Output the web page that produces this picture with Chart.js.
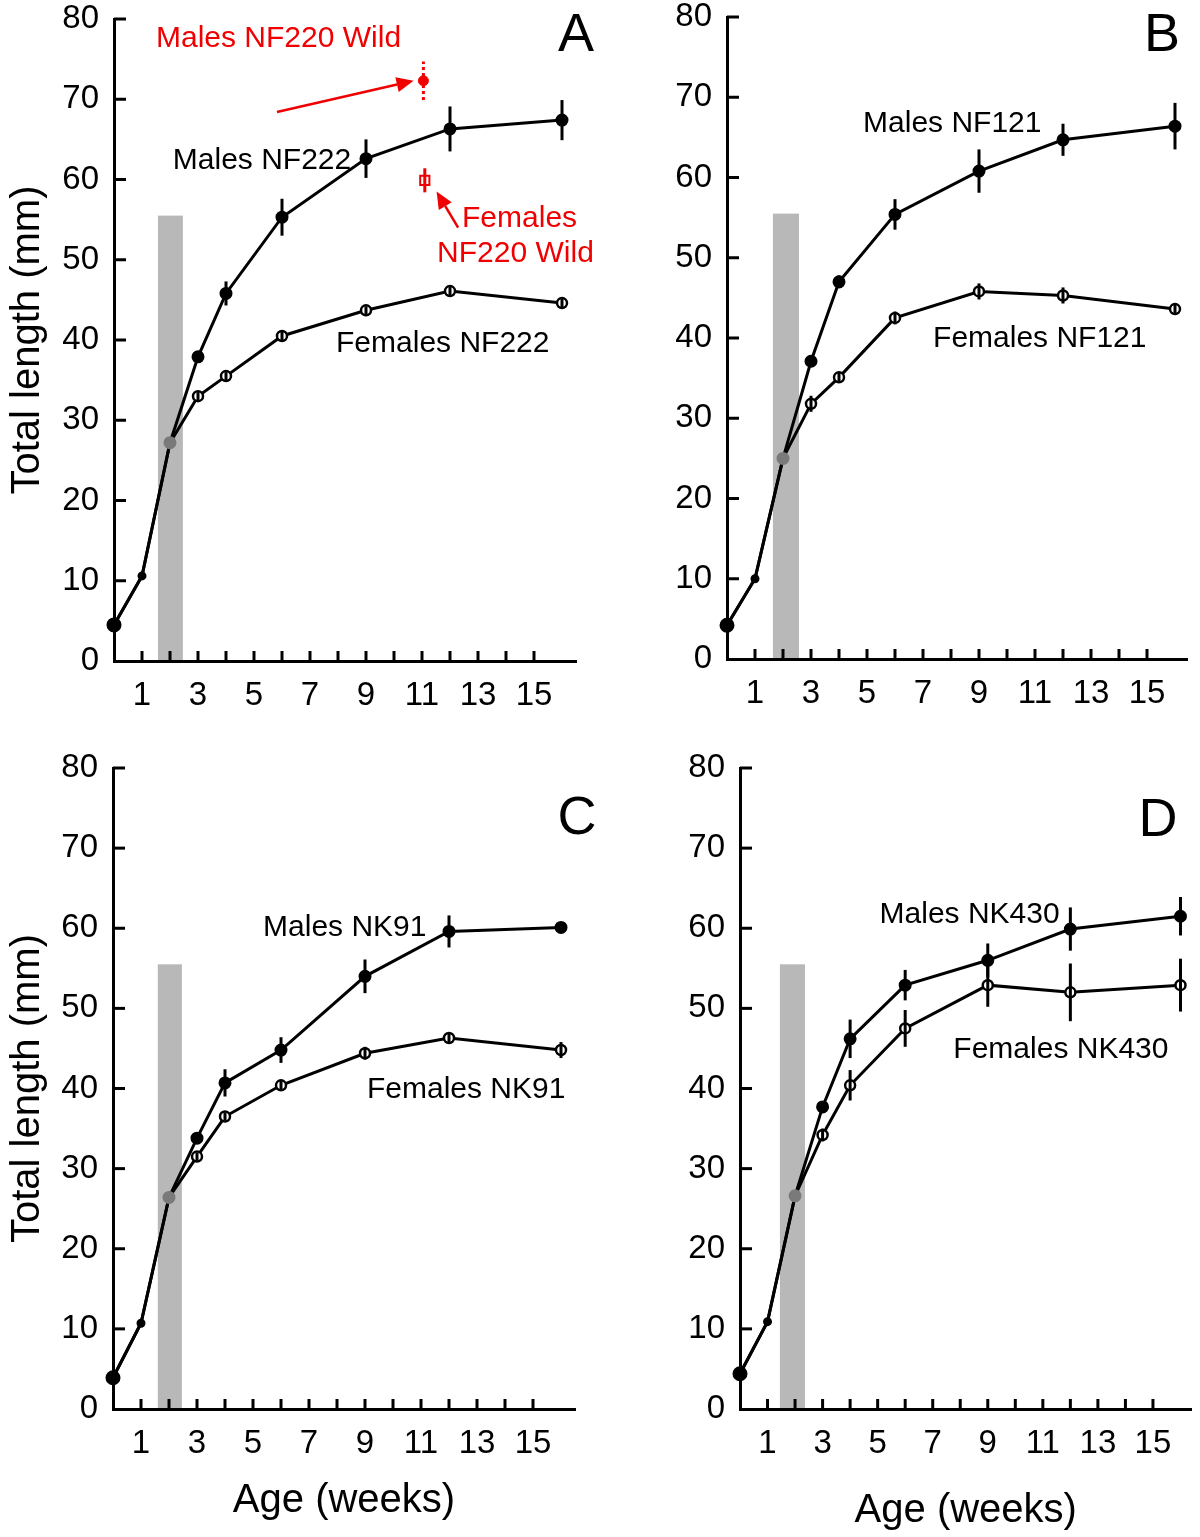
<!DOCTYPE html>
<html>
<head>
<meta charset="utf-8">
<title>Total length by age</title>
<script src="https://cdn.jsdelivr.net/npm/chart.js@4.4.1/dist/chart.umd.min.js"></script>
<style>
    html, body { margin: 0; padding: 0; background: #fff; }
    body { width: 1200px; height: 1537px; position: relative; overflow: hidden; }
    canvas { position: absolute; }
</style>
</head>
<body>
<canvas id="chartA"></canvas>
<canvas id="chartB"></canvas>
<canvas id="chartC"></canvas>
<canvas id="chartD"></canvas>
<script>
// Semanas de medição (eixo x) e rótulos que aparecem no eixo
const weeks = [0, 1, 2, 3, 4, 6, 9, 12, 16];
const xLabelWeeks = [1, 3, 5, 7, 9, 11, 13, 15];
const yTickValues = [0, 10, 20, 30, 40, 50, 60, 70, 80];

// A - NF222
const malesA = [4.5, 10.6, 27.2, 37.9, 45.8, 55.3, 62.6, 66.3, 67.4];
const malesAErr = [0, 0, 0, 0.5, 1.5, 2.3, 2.4, 2.8, 2.5];
const femalesA = [4.5, 10.6, 27.2, 33.0, 35.5, 40.5, 43.7, 46.1, 44.6];
const femalesAErr = [0, 0, 0, 0.5, 0.5, 0.5, 0.5, 0.5, 0.6];

// A - animais selvagens NF220
const wildWeeks = [11.05, 11.1];
const wildMales = [72.3];
const wildMalesErr = [2.4];
const wildFemales = [59.9];
const wildFemalesErr = [1.5];

// B - NF121
const malesB = [4.2, 10.0, 25.0, 37.1, 47.0, 55.4, 60.8, 64.7, 66.4];
const malesBErr = [0, 0, 0, 0.6, 0.8, 1.9, 2.7, 2.0, 2.9];
const femalesB = [4.2, 10.0, 25.0, 31.8, 35.1, 42.5, 45.8, 45.3, 43.6];
const femalesBErr = [0, 0, 0, 1.0, 0.6, 0.8, 1.0, 1.0, 0.7];

// C - NK91
const malesC = [3.9, 10.7, 26.4, 33.8, 40.7, 44.8, 54.0, 59.6, 60.1];
const malesCErr = [0, 0, 0, 0.5, 1.7, 1.6, 2.1, 2.0, 0.4];
const femalesC = [3.9, 10.7, 26.4, 31.5, 36.5, 40.4, 44.4, 46.3, 44.8];
const femalesCErr = [0, 0, 0, 0.5, 0.5, 0.6, 0.8, 0.5, 1.0];

// D - NK430
const malesD = [4.4, 10.9, 26.6, 37.7, 46.2, 52.9, 56.0, 59.9, 61.5];
const malesDErr = [0, 0, 0, 0.5, 2.4, 1.9, 2.1, 2.7, 2.4];
const femalesD = [4.4, 10.9, 26.6, 34.2, 40.4, 47.5, 52.9, 52.0, 52.9];
const femalesDErr = [0, 0, 0, 0.8, 1.9, 2.3, 2.7, 3.6, 3.3];

// Período da barra cinza (semanas) e altura dela (mm)
const bandStart = [1.57, 1.64, 1.6, 1.45];
const bandEnd = [2.46, 2.57, 2.46, 2.36];
const bandTop = 55.5;

const FONT = '"Liberation Sans", Arial, Helvetica, sans-serif';
const RED = '#f00000';
const PX_PER_WEEK = 28;

Chart.defaults.font.family = FONT;
Chart.defaults.color = '#000';

// Marcadores: 1o ponto grande, 2o pequeno, 3o cinza (dentro da barra)
function markerStyle(isFemale) {
    return {
        pointRadius: weeks.map((w, i) => (isFemale && i < 3) ? 0 : ([6.5, 3.5, 5.5][i] ?? (isFemale ? 5 : 5.5))),
        pointBackgroundColor: weeks.map((w, i) => i === 2 ? '#7a7a7a' : (isFemale ? '#fff' : '#000')),
        pointBorderColor: weeks.map((w, i) => i === 2 ? '#7a7a7a' : '#000'),
        pointBorderWidth: isFemale ? 2.5 : 2
    };
}

function series(values, errors, isFemale) {
    return {
        data: weeks.map((w, i) => ({ x: w, y: values[i] })),
        errors: errors,
        errorColor: '#000',
        borderColor: '#000',
        borderWidth: 3,
        tension: 0,
        clip: false,
        ...markerStyle(isFemale)
    };
}

function drawArrow(ctx, x1, y1, x2, y2, color) {
    const ang = Math.atan2(y2 - y1, x2 - x1);
    const head = 17, half = 7.5;
    const cos = Math.cos(ang), sin = Math.sin(ang);
    ctx.strokeStyle = color;
    ctx.fillStyle = color;
    ctx.lineWidth = 2.5;
    ctx.beginPath();
    ctx.moveTo(x1, y1);
    ctx.lineTo(x2 - head * cos, y2 - head * sin);
    ctx.stroke();
    ctx.beginPath();
    ctx.moveTo(x2, y2);
    ctx.lineTo(x2 - head * cos + half * sin, y2 - head * sin - half * cos);
    ctx.lineTo(x2 - head * cos - half * sin, y2 - head * sin + half * cos);
    ctx.closePath();
    ctx.fill();
}

// Plugin: barra cinza, barras de erro, ticks para dentro, textos e setas
const panelDecor = {
    id: 'panelDecor',
    beforeDatasetsDraw(chart, args, opts) {
        const { ctx, scales: { x, y } } = chart;
        const left = x.getPixelForValue(opts.band[0]);
        const right = x.getPixelForValue(opts.band[1]);
        const top = y.getPixelForValue(bandTop);
        const bottom = y.getPixelForValue(0) - 1;
        ctx.save();
        ctx.fillStyle = '#b8b8b8';
        ctx.fillRect(left, top, right - left, bottom - top);
        ctx.restore();
    },
    afterDatasetsDraw(chart) {
        const { ctx, scales: { x, y } } = chart;
        chart.data.datasets.forEach(ds => {
            if (!ds.errors) return;
            ctx.save();
            ctx.strokeStyle = ds.errorColor;
            ctx.lineWidth = 3;
            ctx.setLineDash(ds.errorDash || []);
            ds.data.forEach((pt, i) => {
                const e = ds.errors[i];
                if (!e) return;
                const px = x.getPixelForValue(pt.x);
                ctx.beginPath();
                ctx.moveTo(px, y.getPixelForValue(pt.y - e));
                ctx.lineTo(px, y.getPixelForValue(pt.y + e));
                ctx.stroke();
            });
            ctx.restore();
        });
    },
    afterDraw(chart, args, opts) {
        const { ctx, scales: { x, y } } = chart;
        const x0 = x.getPixelForValue(0);
        const y0 = y.getPixelForValue(0);
        ctx.save();
        ctx.strokeStyle = '#000';
        ctx.lineWidth = 3;
        x.ticks.forEach(t => {
            if (t.value === 0) return;
            const px = x.getPixelForValue(t.value);
            ctx.beginPath();
            ctx.moveTo(px, y0);
            ctx.lineTo(px, y0 - 10);
            ctx.stroke();
        });
        y.ticks.forEach(t => {
            if (t.value === 0) return;
            const py = y.getPixelForValue(t.value);
            ctx.beginPath();
            ctx.moveTo(x0, py);
            ctx.lineTo(x0 + 12, py);
            ctx.stroke();
        });

        (opts.arrows || []).forEach(a => {
            drawArrow(ctx,
                x.getPixelForValue(a.from[0]), y.getPixelForValue(a.from[1]),
                x.getPixelForValue(a.to[0]), y.getPixelForValue(a.to[1]), a.color);
        });

        ctx.textBaseline = 'middle';
        (opts.labels || []).forEach(l => {
            ctx.font = `${l.size || 30}px ${FONT}`;
            ctx.fillStyle = l.color || '#000';
            ctx.textAlign = l.align || 'left';
            ctx.fillText(l.text, x.getPixelForValue(l.x), y.getPixelForValue(l.y));
        });
        ctx.restore();
    }
};

const panels = [
    {
        id: 'chartA',
        box: { left: 0, top: -30, width: 600, height: 798 },
        area: { left: 114, top: 19, bottom: 661 },
        xMax: 16.5,
        yTitle: true,
        datasets: [
            series(malesA, malesAErr, false),
            series(femalesA, femalesAErr, true),
            {
                data: [{ x: wildWeeks[0], y: wildMales[0] }],
                showLine: false, clip: false,
                pointRadius: 5, pointBorderWidth: 1,
                pointBackgroundColor: RED, pointBorderColor: RED,
                errors: wildMalesErr, errorColor: RED, errorDash: [3, 3]
            },
            {
                data: [{ x: wildWeeks[1], y: wildFemales[0] }],
                showLine: false, clip: false,
                pointStyle: 'rect', pointRadius: 6.5, pointBorderWidth: 2,
                pointBackgroundColor: '#fff', pointBorderColor: RED,
                errors: wildFemalesErr, errorColor: RED
            }
        ],
        decor: {
            band: [bandStart[0], bandEnd[0]],
            labels: [
                { text: 'Males NF222', x: 2.1, y: 62.4 },
                { text: 'Females NF222', x: 7.93, y: 39.5 },
                { text: 'Males NF220 Wild', x: 1.5, y: 77.6, color: RED },
                { text: 'Females', x: 12.43, y: 55.1, color: RED },
                { text: 'NF220 Wild', x: 11.54, y: 50.7, color: RED },
                { text: 'A', x: 16.5, y: 77.9, size: 54, align: 'center' }
            ],
            arrows: [
                { from: [5.82, 68.4], to: [10.7, 72.3], color: RED },
                { from: [12.29, 54.0], to: [11.52, 58.5], color: RED }
            ]
        }
    },
    {
        id: 'chartB',
        box: { left: 600, top: -30, width: 600, height: 798 },
        area: { left: 727, top: 17, bottom: 659 },
        xMax: 16.45,
        datasets: [series(malesB, malesBErr, false), series(femalesB, femalesBErr, true)],
        decor: {
            band: [bandStart[1], bandEnd[1]],
            labels: [
                { text: 'Males NF121', x: 4.86, y: 66.7 },
                { text: 'Females NF121', x: 7.36, y: 39.9 },
                { text: 'B', x: 15.54, y: 77.6, size: 54, align: 'center' }
            ]
        }
    },
    {
        id: 'chartC',
        box: { left: 0, top: 720, width: 600, height: 817 },
        area: { left: 113, top: 768, bottom: 1409 },
        xMax: 16.5,
        yTitle: true,
        xTitlePad: 12,
        datasets: [series(malesC, malesCErr, false), series(femalesC, femalesCErr, true)],
        decor: {
            band: [bandStart[2], bandEnd[2]],
            labels: [
                { text: 'Males NK91', x: 5.36, y: 60.1 },
                { text: 'Females NK91', x: 9.07, y: 39.8 },
                { text: 'C', x: 16.57, y: 73.6, size: 54, align: 'center' }
            ]
        }
    },
    {
        id: 'chartD',
        box: { left: 600, top: 720, width: 600, height: 817 },
        area: { left: 740, top: 768, bottom: 1409 },
        xMax: 16.4,
        xTitlePad: 2,
        datasets: [series(malesD, malesDErr, false), series(femalesD, femalesDErr, true)],
        decor: {
            band: [bandStart[3], bandEnd[3]],
            labels: [
                { text: 'Males NK430', x: 5.07, y: 61.7 },
                { text: 'Females NK430', x: 7.75, y: 44.8 },
                { text: 'D', x: 15.18, y: 73.4, size: 54, align: 'center' }
            ]
        }
    }
];

function createPanel(p) {
    const canvas = document.getElementById(p.id);
    const b = p.box;
    canvas.width = b.width;
    canvas.height = b.height;
    canvas.style.left = b.left + 'px';
    canvas.style.top = b.top + 'px';
    canvas.style.width = b.width + 'px';
    canvas.style.height = b.height + 'px';

    const yBoxWidth = p.area.left - b.left;
    const xBoxHeight = b.top + b.height - p.area.bottom;
    const chartRight = p.area.left + PX_PER_WEEK * p.xMax;

    return new Chart(canvas, {
        type: 'line',
        data: { datasets: p.datasets },
        plugins: [panelDecor],
        options: {
            responsive: false,
            animation: false,
            events: [],
            layout: {
                padding: { left: 0, bottom: 0, top: p.area.top - b.top, right: b.left + b.width - chartRight }
            },
            plugins: {
                legend: { display: false },
                tooltip: { enabled: false },
                panelDecor: p.decor
            },
            scales: {
                x: {
                    type: 'linear',
                    min: 0,
                    max: p.xMax,
                    afterBuildTicks: s => { s.ticks = s.ticks.filter(t => Number.isInteger(t.value)); },
                    afterFit: s => { s.height = xBoxHeight; },
                    grid: { display: true, drawOnChartArea: false, drawTicks: false },
                    border: { display: true, width: 3, color: '#000' },
                    ticks: {
                        stepSize: 1,
                        autoSkip: false,
                        maxRotation: 0,
                        minRotation: 0,
                        padding: 18,
                        font: { size: 33, lineHeight: 1 },
                        color: '#000',
                        callback: v => xLabelWeeks.includes(v) ? String(v) : ''
                    },
                    title: {
                        display: p.xTitlePad !== undefined,
                        text: 'Age (weeks)',
                        color: '#000',
                        font: { size: 40, lineHeight: 1.2 },
                        padding: { top: 0, bottom: p.xTitlePad || 0 }
                    }
                },
                y: {
                    min: 0,
                    max: 80,
                    afterBuildTicks: s => { s.ticks = yTickValues.map(v => ({ value: v })); },
                    afterFit: s => { s.width = yBoxWidth; },
                    grid: { display: true, drawOnChartArea: false, drawTicks: false },
                    border: { display: true, width: 3, color: '#000' },
                    ticks: {
                        padding: 15,
                        font: { size: 33, lineHeight: 1 },
                        color: '#000'
                    },
                    title: {
                        display: !!p.yTitle,
                        text: 'Total length (mm)',
                        color: '#000',
                        font: { size: 40, lineHeight: 1.2 },
                        padding: { top: 4, bottom: 0 }
                    }
                }
            }
        }
    });
}

document.addEventListener('DOMContentLoaded', () => {
    window.growthCharts = panels.map(createPanel);
});
</script>
</body>
</html>
